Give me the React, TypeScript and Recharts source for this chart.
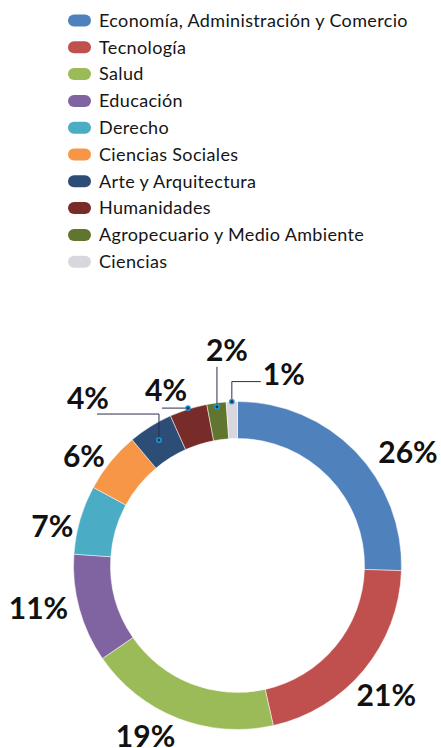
import { PieChart, Pie, Cell } from 'recharts';

const CATEGORIES = [
  'Economía, Administración y Comercio',
  'Tecnología',
  'Salud',
  'Educación',
  'Derecho',
  'Ciencias Sociales',
  'Arte y Arquitectura',
  'Humanidades',
  'Agropecuario y Medio Ambiente',
  'Ciencias',
];

// shares in %, read from slice boundaries (labels show the rounded value)
const SHARES = [25.5, 21, 18.9, 10.7, 6.8, 6, 4.4, 3.7, 1.9, 1.1];

const COLORS = [
  '#4F81BD',
  '#C0504D',
  '#9BBB59',
  '#8064A2',
  '#4BACC6',
  '#F79646',
  '#2C4D75',
  '#772C2A',
  '#5F7530',
  '#D9D7DD',
];

const data = CATEGORIES.map((name, i) => ({ name, value: SHARES[i] }));

const W = 441;
const H = 748;
const CX = 237.5;
const CY = 565.5;
const INNER = 127;
const OUTER = 164;

const LABEL_FONT = 'Lato, "Open Sans", sans-serif';
const LINE = '#28304d';
const RAD = Math.PI / 180;

// outside labels: nudge from a point at r=197 on the mid angle
const NUDGE: Record<number, [number, number]> = {
  0: [29, 24],
  1: [-3, 4],
  2: [-20, -13],
  3: [-9, -9],
  4: [4, 15],
  5: [-1, 15],
};

// small slices get a leader line
const LEADERS: Record<number, { r: number; path: [number, number][]; tx: number; ty: number; anchor: 'start' | 'middle' }> = {
  6: { r: 148, path: [[0, -26], [-62, -26]], tx: -71, ty: -31, anchor: 'middle' },
  7: { r: 165, path: [[-26, 0]], tx: -22, ty: -7, anchor: 'middle' },
  8: { r: 160, path: [[0, -40]], tx: 10, ty: -46, anchor: 'middle' },
  9: { r: 164, path: [[0, -20], [29, -20]], tx: 31, ty: -17, anchor: 'start' },
};

function renderLabel(props: any) {
  const { cx, cy, midAngle, index } = props;
  const text = `${Math.round(SHARES[index])}%`;
  const cos = Math.cos(-midAngle * RAD);
  const sin = Math.sin(-midAngle * RAD);
  const lead = LEADERS[index];
  const textStyle = { fontFamily: LABEL_FONT, fontWeight: 700, fontSize: 30, fill: '#111' };

  if (lead) {
    const px = cx + lead.r * cos;
    const py = cy + lead.r * sin;
    const pts = [[px, py], ...lead.path.map(([dx, dy]) => [px + dx, py + dy])];
    return (
      <g key={`lbl-${index}`}>
        <polyline points={pts.map((p) => p.join(',')).join(' ')} fill="none" stroke={LINE} strokeWidth={1} />
        <circle cx={px} cy={py} r={2.2} fill={LINE} stroke="#1ba1e2" strokeWidth={1.3} />
        <text x={px + lead.tx} y={py + lead.ty} textAnchor={lead.anchor} style={textStyle}>
          {text}
        </text>
      </g>
    );
  }

  const n = NUDGE[index] || [0, 0];
  const x = cx + 197 * cos + n[0];
  const y = cy + 197 * sin + n[1] + 11;
  return (
    <text key={`lbl-${index}`} x={x} y={y} textAnchor="middle" style={textStyle}>
      {text}
    </text>
  );
}

function LegendBlock() {
  return (
    <svg width={W} height={280} style={{ position: 'absolute', left: 0, top: 0 }}>
      {CATEGORIES.map((name, i) => {
        const yc = 20.5 + i * 26.8;
        return (
          <g key={name}>
            <rect x={68} y={yc - 6} width={23} height={12} rx={6} fill={COLORS[i]} />
            <text
              x={99}
              y={yc + 6.3}
              style={{
                fontFamily: 'Lato, "Open Sans", sans-serif',
                fontSize: 18,
                letterSpacing: 0.35,
                fill: '#151515',
              }}
            >
              {name}
            </text>
          </g>
        );
      })}
    </svg>
  );
}

export default function App() {
  return (
    <div style={{ position: 'absolute', left: 0, top: 0, width: W, height: H, background: '#fff' }}>
      <PieChart width={W} height={H} margin={{ top: 0, right: 0, bottom: 0, left: 0 }}>
        <Pie
          data={data}
          dataKey="value"
          nameKey="name"
          cx={CX}
          cy={CY}
          innerRadius={INNER}
          outerRadius={OUTER}
          startAngle={90}
          endAngle={-270}
          stroke="#ffffff"
          strokeWidth={0.5}
          label={renderLabel}
          labelLine={false}
          isAnimationActive={false}
        >
          {data.map((d, i) => (
            <Cell key={d.name} fill={COLORS[i]} />
          ))}
        </Pie>
      </PieChart>
      <LegendBlock />
    </div>
  );
}
